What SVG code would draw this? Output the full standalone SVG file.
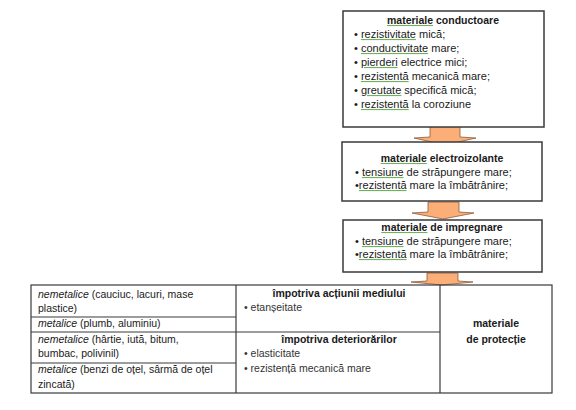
<svg xmlns="http://www.w3.org/2000/svg" width="576" height="410" viewBox="0 0 576 410">
<style>
text{font-family:"Liberation Sans",Arial,sans-serif;font-size:10.5px;fill:#1a1a1a}
.bx{font-size:11px}
.b{font-weight:bold;font-size:10.5px}
.c{text-anchor:middle}
.i{font-style:italic}
.g{fill:#333}
.sp{text-decoration:underline;fill:#6cb35a}
.w{fill:#1a1a1a}
.box{fill:#fff;stroke:#3a3a3a;stroke-width:1.5}
.arr{fill:#FBAE78;stroke:#8a5a3a;stroke-width:0.8}
.tl{fill:none;stroke:#3a3a3a;stroke-width:1.2}
</style>
<rect width="576" height="410" fill="#fff"/>
<g id="connectors">
<path class="arr" d="M430,126 H460 V137 L476,138 L445,145 L414,138 L430,137 Z"/>
<path class="arr" d="M428,202 H459 V212 L474,213 L443,219 L412,213 L428,212 Z"/>
<path class="arr" d="M427,273 H458 V281 L473,282 L442,285 L411,282 L427,281 Z"/>
</g>
<g id="conductoare">
<rect class="box" x="343" y="11" width="201" height="116"/>
<text x="443" y="24" class="b c"><tspan class="sp"><tspan class="w">materiale</tspan></tspan> conductoare</text>
<text x="354" y="38" class="bx">• <tspan class="sp"><tspan class="w">rezistivitate</tspan></tspan> mică;</text>
<text x="354" y="52" class="bx">• <tspan class="sp"><tspan class="w">conductivitate</tspan></tspan> mare;</text>
<text x="354" y="66" class="bx">• <tspan class="sp"><tspan class="w">pierderi</tspan></tspan> electrice mici;</text>
<text x="354" y="80" class="bx">• <tspan class="sp"><tspan class="w">rezistentă</tspan></tspan> mecanică mare;</text>
<text x="354" y="94" class="bx">• <tspan class="sp"><tspan class="w">greutate</tspan></tspan> specifică mică;</text>
<text x="354" y="108" class="bx">• <tspan class="sp"><tspan class="w">rezistentă</tspan></tspan> la coroziune</text>
</g>
<g id="electroizolante">
<rect class="box" x="342" y="142" width="200" height="59"/>
<text x="442" y="162" class="b c"><tspan class="sp"><tspan class="w">materiale</tspan></tspan> electroizolante</text>
<text x="355" y="176" class="bx">• <tspan class="sp"><tspan class="w">tensiune</tspan></tspan> de străpungere mare;</text>
<text x="355" y="189" class="bx">•<tspan class="sp"><tspan class="w">rezistentă</tspan></tspan> mare la îmbătrânire;</text>
</g>
<g id="impregnare">
<rect class="box" x="343" y="220" width="199" height="52"/>
<text x="442" y="231" class="b c"><tspan class="sp"><tspan class="w">materiale</tspan></tspan> de impregnare</text>
<text x="355" y="245" class="bx">• <tspan class="sp"><tspan class="w">tensiune</tspan></tspan> de străpungere mare;</text>
<text x="355" y="258" class="bx">•<tspan class="sp"><tspan class="w">rezistentă</tspan></tspan> mare la îmbătrânire;</text>
</g>
<g id="protectie">
<rect class="tl" x="31" y="285" width="521" height="108"/>
<line class="tl" x1="236" y1="285" x2="236" y2="393"/>
<line class="tl" x1="440" y1="285" x2="440" y2="393"/>
<line class="tl" x1="31" y1="317" x2="236" y2="317"/>
<line class="tl" x1="31" y1="332" x2="440" y2="332"/>
<line class="tl" x1="31" y1="363" x2="236" y2="363"/>
<text x="38" y="298"><tspan class="i">nemetalice</tspan> (cauciuc, lacuri, mase</text>
<text x="38" y="312">plastice)</text>
<text x="38" y="327"><tspan class="i">metalice</tspan> (plumb, aluminiu)</text>
<text x="38" y="343"><tspan class="i">nemetalice</tspan> (hârtie, iută, bitum,</text>
<text x="38" y="357">bumbac, polivinil)</text>
<text x="38" y="373"><tspan class="i">metalice</tspan> (benzi de oțel, sârmă de oțel</text>
<text x="38" y="388">zincată)</text>
<text x="339" y="297" class="b c">împotriva acțiunii mediului</text>
<text x="244" y="311" class="g">• etanșeitate</text>
<text x="339" y="343" class="b c">împotriva deteriorărilor</text>
<text x="244" y="357" class="g">• elasticitate</text>
<text x="244" y="372" class="g">• rezistență mecanică mare</text>
<text x="496" y="327" class="b c">materiale</text>
<text x="496" y="343" class="b c">de protecție</text>
</g>
</svg>
